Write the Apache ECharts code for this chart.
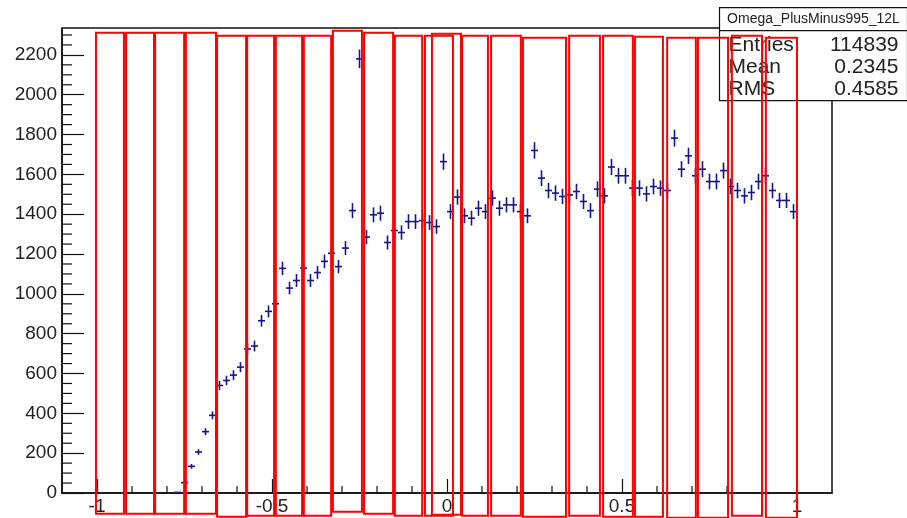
<!DOCTYPE html>
<html>
<head>
<meta charset="utf-8">
<script src="https://cdn.jsdelivr.net/npm/echarts@6/dist/echarts.min.js"></script>
<style>
  html, body { margin: 0; padding: 0; background: #ffffff; }
  #chart { width: 907px; height: 518px; }
</style>
</head>
<body>
<div id="chart"></div>
<script>
// Histogram bin centres (bin width 0.02) and bin contents
const binCenters = [
  -0.77, -0.75, -0.73, -0.71, -0.69, -0.67, -0.65, -0.63, -0.61, -0.59,
  -0.57, -0.55, -0.53, -0.51, -0.49, -0.47, -0.45, -0.43, -0.41, -0.39,
  -0.37, -0.35, -0.33, -0.31, -0.29, -0.27, -0.25, -0.23, -0.21, -0.19,
  -0.17, -0.15, -0.13, -0.11, -0.09, -0.07, -0.05, -0.03, -0.01, 0.01,
  0.03, 0.05, 0.07, 0.09, 0.11, 0.13, 0.15, 0.17, 0.19, 0.21,
  0.23, 0.25, 0.27, 0.29, 0.31, 0.33, 0.35, 0.37, 0.39, 0.41,
  0.43, 0.45, 0.47, 0.49, 0.51, 0.53, 0.55, 0.57, 0.59, 0.61,
  0.63, 0.65, 0.67, 0.69, 0.71, 0.73, 0.75, 0.77, 0.79, 0.81,
  0.83, 0.85, 0.87, 0.89, 0.91, 0.93, 0.95, 0.97, 0.99
];
const counts = [
  3, 52, 134, 206, 308, 390, 540, 565, 592, 632,
  723, 738, 865, 912, 950, 1128, 1029, 1067, 1129, 1067,
  1107, 1163, 1204, 1137, 1230, 1418, 2180, 1285, 1397, 1405,
  1258, 1318, 1308, 1363, 1363, 1368, 1358, 1338, 1664, 1413,
  1486, 1392, 1380, 1430, 1413, 1481, 1430, 1447, 1447, 1413,
  1392, 1720, 1581, 1519, 1506, 1489, 1497, 1514, 1464, 1418,
  1526, 1492, 1637, 1593, 1593, 1531, 1531, 1502, 1539, 1531,
  1519, 1782, 1626, 1693, 1593, 1626, 1564, 1564, 1619, 1539,
  1519, 1492, 1509, 1564, 1593, 1519, 1469, 1469, 1413
];
const binHalfWidth = 0.01;

// Axis ticks and labels
const xMajorTicks = [-1, -0.5, 0, 0.5, 1];
const xMinorTicks = [-0.9, -0.8, -0.7, -0.6, -0.4, -0.3, -0.2, -0.1, 0.1, 0.2, 0.3, 0.4, 0.6, 0.7, 0.8, 0.9];
const yMajorTicks = [0, 200, 400, 600, 800, 1000, 1200, 1400, 1600, 1800, 2000, 2200];
const yMinorTicks = [];
for (let v = 50; v <= 2300; v += 50) if (v % 200 !== 0) yMinorTicks.push(v);

// Statistics box
const statsTitle = 'Omega_PlusMinus995_12L';
const statsNames = ['Entries', 'Mean', 'RMS'];
const statsValues = ['114839', '0.2345', '0.4585'];

// Red outline boxes in axis units: [xLeft, xRight, yTop, yBottom]
const redBoxes = [
  [-1.003, -0.923, 2311, -104],
  [-0.917, -0.837, 2311, -104],
  [-0.834, -0.751, 2311, -104],
  [-0.746, -0.660, 2311, -104],
  [-0.657, -0.574, 2296, -119],
  [-0.571, -0.494, 2296, -114],
  [-0.489, -0.414, 2296, -114],
  [-0.409, -0.331, 2296, -114],
  [-0.326, -0.243, 2321, -94],
  [-0.237, -0.154, 2311, -104],
  [-0.149, -0.071, 2296, -114],
  [-0.063, 0.017, 2296, -114],
  [-0.043, 0.040, 2306, -109],
  [0.043, 0.117, 2296, -114],
  [0.126, 0.211, 2296, -114],
  [0.217, 0.340, 2286, -119],
  [0.349, 0.437, 2296, -114],
  [0.446, 0.531, 2296, -119],
  [0.537, 0.617, 2291, -119],
  [0.629, 0.711, 2286, -124],
  [0.717, 0.803, 2286, -124],
  [0.814, 0.900, 2296, -114],
  [0.911, 1.000, 2286, -124]
];

const FONT = '"Liberation Sans", Arial, Helvetica, sans-serif';
const X_MIN = -1.1, X_MAX = 1.1, Y_MIN = 0, Y_MAX = 2335;
const axisColor = '#111111';

const chart = echarts.init(document.getElementById('chart'), null, { renderer: 'canvas' });

// Short inward tick marks drawn along an axis edge
function minorTickSeries(values, onX, len) {
  return {
    type: 'custom',
    xAxisIndex: 0, yAxisIndex: 0,
    data: values.map(v => onX ? [v, Y_MIN] : [X_MIN, v]),
    clip: false,
    silent: true,
    z: 3,
    renderItem: function (params, api) {
      const p = api.coord([api.value(0), api.value(1)]);
      const shape = onX
        ? { x1: p[0], y1: p[1], x2: p[0], y2: p[1] - len }
        : { x1: p[0], y1: p[1], x2: p[0] + len, y2: p[1] };
      return { type: 'line', shape: shape, style: { stroke: axisColor, lineWidth: 1.2 } };
    }
  };
}

const option = {
  animation: false,
  backgroundColor: '#ffffff',
  grid: {
    left: 62, right: 75, top: 28, bottom: 25,
    show: true, borderColor: axisColor, borderWidth: 1.5,
    backgroundColor: 'transparent'
  },
  xAxis: {
    type: 'value', min: X_MIN, max: X_MAX, position: 'bottom',
    axisLine: { show: true, onZero: false, lineStyle: { color: axisColor, width: 1.5 } },
    axisTick: { show: true, inside: true, length: 14, customValues: xMajorTicks, lineStyle: { color: axisColor, width: 1.2 } },
    axisLabel: {
      show: true, customValues: xMajorTicks, margin: 4,
      color: '#222', fontFamily: FONT, fontSize: 19,
      formatter: v => String(v)
    },
    splitLine: { show: false }
  },
  yAxis: {
    type: 'value', min: Y_MIN, max: Y_MAX, position: 'left',
    axisLine: { show: true, onZero: false, lineStyle: { color: axisColor, width: 1.5 } },
    axisTick: { show: true, inside: true, length: 22, customValues: yMajorTicks, lineStyle: { color: axisColor, width: 1.2 } },
    axisLabel: {
      show: true, customValues: yMajorTicks, margin: 5,
      color: '#222', fontFamily: FONT, fontSize: 19,
      formatter: v => String(v)
    },
    splitLine: { show: false }
  },
  series: [
    minorTickSeries(xMinorTicks, true, 7),
    minorTickSeries(yMinorTicks, false, 10),
    {
      // Data points with sqrt(N) vertical error bars and bin-width horizontal bars
      type: 'custom',
      xAxisIndex: 0, yAxisIndex: 0,
      data: binCenters.map((x, i) => [x, counts[i]]),
      clip: true,
      z: 2,
      renderItem: function (params, api) {
        const x = api.value(0), y = api.value(1);
        const err = Math.sqrt(y);
        const l = api.coord([x - binHalfWidth, y]);
        const r = api.coord([x + binHalfWidth, y]);
        const t = api.coord([x, y + err]);
        const b = api.coord([x, y - err]);
        const style = { stroke: '#16168a', lineWidth: 1.6, fill: null };
        return {
          type: 'group',
          children: [
            { type: 'line', shape: { x1: l[0], y1: l[1], x2: r[0], y2: r[1] }, style: style },
            { type: 'line', shape: { x1: t[0], y1: t[1], x2: b[0], y2: b[1] }, style: style }
          ]
        };
      }
    },
    {
      // Red outline boxes drawn over the plot
      type: 'custom',
      xAxisIndex: 0, yAxisIndex: 0,
      data: redBoxes,
      clip: false,
      z: 5,
      renderItem: function (params, api) {
        const p0 = api.coord([api.value(0), api.value(2)]);
        const p1 = api.coord([api.value(1), api.value(3)]);
        return {
          type: 'rect',
          shape: { x: p0[0], y: p0[1], width: p1[0] - p0[0], height: p1[1] - p0[1] },
          style: { stroke: '#ff0000', lineWidth: 2, fill: null }
        };
      }
    }
  ],
  graphic: [
    {
      type: 'group', left: 717, top: 7, z: 10,
      children: [
        { type: 'rect', shape: { x: 0, y: 0, width: 188, height: 93 }, style: { fill: '#ffffff', stroke: '#111', lineWidth: 1.2 } },
        { type: 'line', shape: { x1: 0, y1: 23, x2: 188, y2: 23 }, style: { stroke: '#111', lineWidth: 1.2 } },
        { type: 'text', x: 94, y: 12, style: { text: statsTitle, fill: '#222', font: '14px ' + FONT, align: 'center', verticalAlign: 'middle' } },
        ...statsNames.map((n, i) => ({
          type: 'text', x: 9, y: 38 + i * 22,
          style: { text: n, fill: '#222', font: '21px ' + FONT, align: 'left', verticalAlign: 'middle' }
        })),
        ...statsValues.map((v, i) => ({
          type: 'text', x: 179, y: 38 + i * 22,
          style: { text: v, fill: '#222', font: '21px ' + FONT, align: 'right', verticalAlign: 'middle' }
        }))
      ]
    }
  ]
};

chart.setOption(option);
</script>
</body>
</html>
